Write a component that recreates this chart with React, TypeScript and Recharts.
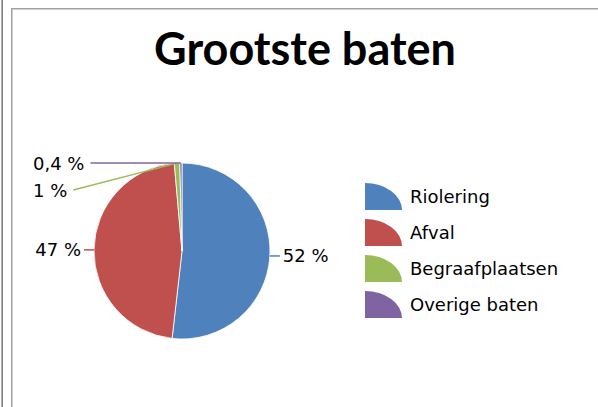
import React from "react";
import { PieChart, Pie, Cell, Legend } from "recharts";

const categories = ["Riolering", "Afval", "Begraafplaatsen", "Overige baten"];
const shares = [52, 47, 1, 0.4];
const colors = ["#4f81bd", "#c0504d", "#9bbb59", "#8064a2"];
const title = "Grootste baten";

const data = categories.map((name, i) => ({ name, value: shares[i] }));

const labelFont = "'DejaVu Sans', Tahoma, sans-serif";
const labelSize = 18;
const RADIAN = Math.PI / 180;

const fmt = (v: number) => String(v).replace(".", ",") + " %";

let ctx: CanvasRenderingContext2D | null = null;
function textWidth(s: string) {
  if (!ctx) ctx = document.createElement("canvas").getContext("2d");
  if (!ctx) return s.length * 10;
  ctx.font = `${labelSize}px ${labelFont}`;
  return ctx.measureText(s).width;
}

// Excel-style labels: big slices get a short leader, tiny ones are stacked upper left
function renderLabel(props: any) {
  const { cx, cy, midAngle, outerRadius, index, percent } = props;
  const cos = Math.cos(-midAngle * RADIAN);
  const ex = cx + outerRadius * cos;
  const ey = cy + outerRadius * Math.sin(-midAngle * RADIAN);
  const color = colors[index];
  const text = fmt(shares[index]);

  if (percent > 0.05) {
    const dir = cos >= 0 ? 1 : -1;
    const lx = ex + dir * 10;
    return (
      <g>
        <line x1={ex} y1={ey} x2={lx} y2={ey} stroke={color} strokeWidth={1.5} />
        <text
          x={lx + dir * 3}
          y={ey}
          textAnchor={dir > 0 ? "start" : "end"}
          dominantBaseline="central"
          fontFamily={labelFont}
          fontSize={labelSize}
          fill="#000"
        >
          {text}
        </text>
      </g>
    );
  }

  const rank = shares.length - 1 - index;
  const ty = cy - outerRadius + rank * 27;
  const tx = cx - outerRadius - 61;
  const w = textWidth(text);
  return (
    <g>
      <line x1={tx + w + 6} y1={ty} x2={ex} y2={ey} stroke={color} strokeWidth={1.5} />
      <text
        x={tx}
        y={ty}
        dominantBaseline="central"
        fontFamily={labelFont}
        fontSize={labelSize}
        fill="#000"
      >
        {text}
      </text>
    </g>
  );
}

// keep the legend in data order (recharts sorts it by name otherwise)
function LegendContent() {
  return (
    <div>
      {categories.map((c, i) => (
        <div key={c} style={{ display: "flex", alignItems: "center", height: 36 }}>
          <svg width={40} height={30} style={{ display: "block" }}>
            <path d="M1,29 L1,2 A37,27 0 0 1 38,29 Z" fill={colors[i]} />
          </svg>
          <span
            style={{
              marginLeft: 6,
              fontFamily: labelFont,
              fontSize: labelSize,
              color: "#000",
              whiteSpace: "nowrap",
            }}
          >
            {c}
          </span>
        </div>
      ))}
    </div>
  );
}

export default function App() {
  return (
    <div style={{ position: "absolute", left: 0, top: 0, width: 598, height: 407, background: "#fff" }}>
      <svg width={598} height={407} style={{ position: "absolute", left: 0, top: 0 }}>
        <line x1={1.5} y1={0} x2={1.5} y2={407} stroke="#b0b0b0" strokeWidth={1} />
        <line x1={2.5} y1={0} x2={2.5} y2={407} stroke="#808080" strokeWidth={1} />
        <line x1={11.5} y1={8} x2={11.5} y2={407} stroke="#a0a0a0" strokeWidth={1} />
        <line x1={12.5} y1={9} x2={12.5} y2={407} stroke="#d0d0d0" strokeWidth={1} />
        <line x1={11} y1={8.5} x2={598} y2={8.5} stroke="#a0a0a0" strokeWidth={1} />
        <line x1={12} y1={9.5} x2={598} y2={9.5} stroke="#d0d0d0" strokeWidth={1} />
        <text
          x={305}
          y={65}
          textAnchor="middle"
          fontFamily="Lato, 'Open Sans', sans-serif"
          fontWeight={700}
          fontSize={45}
          fill="#000"
        >
          {title}
        </text>
      </svg>
      <div style={{ position: "absolute", left: 0, top: 0 }}>
        <PieChart width={598} height={407} margin={{ top: 0, right: 0, bottom: 0, left: 0 }}>
          <Pie
            data={data}
            dataKey="value"
            nameKey="name"
            cx={182}
            cy={251}
            outerRadius={88}
            startAngle={90}
            endAngle={-270}
            stroke="#ffffff"
            strokeWidth={0.8}
            label={renderLabel}
            labelLine={false}
            isAnimationActive={false}
          >
            {data.map((d, i) => (
              <Cell key={d.name} fill={colors[i]} />
            ))}
          </Pie>
          <Legend
            content={<LegendContent />}
            wrapperStyle={{ position: "absolute", left: 364, top: 178, width: 230 }}
          />
        </PieChart>
      </div>
    </div>
  );
}
